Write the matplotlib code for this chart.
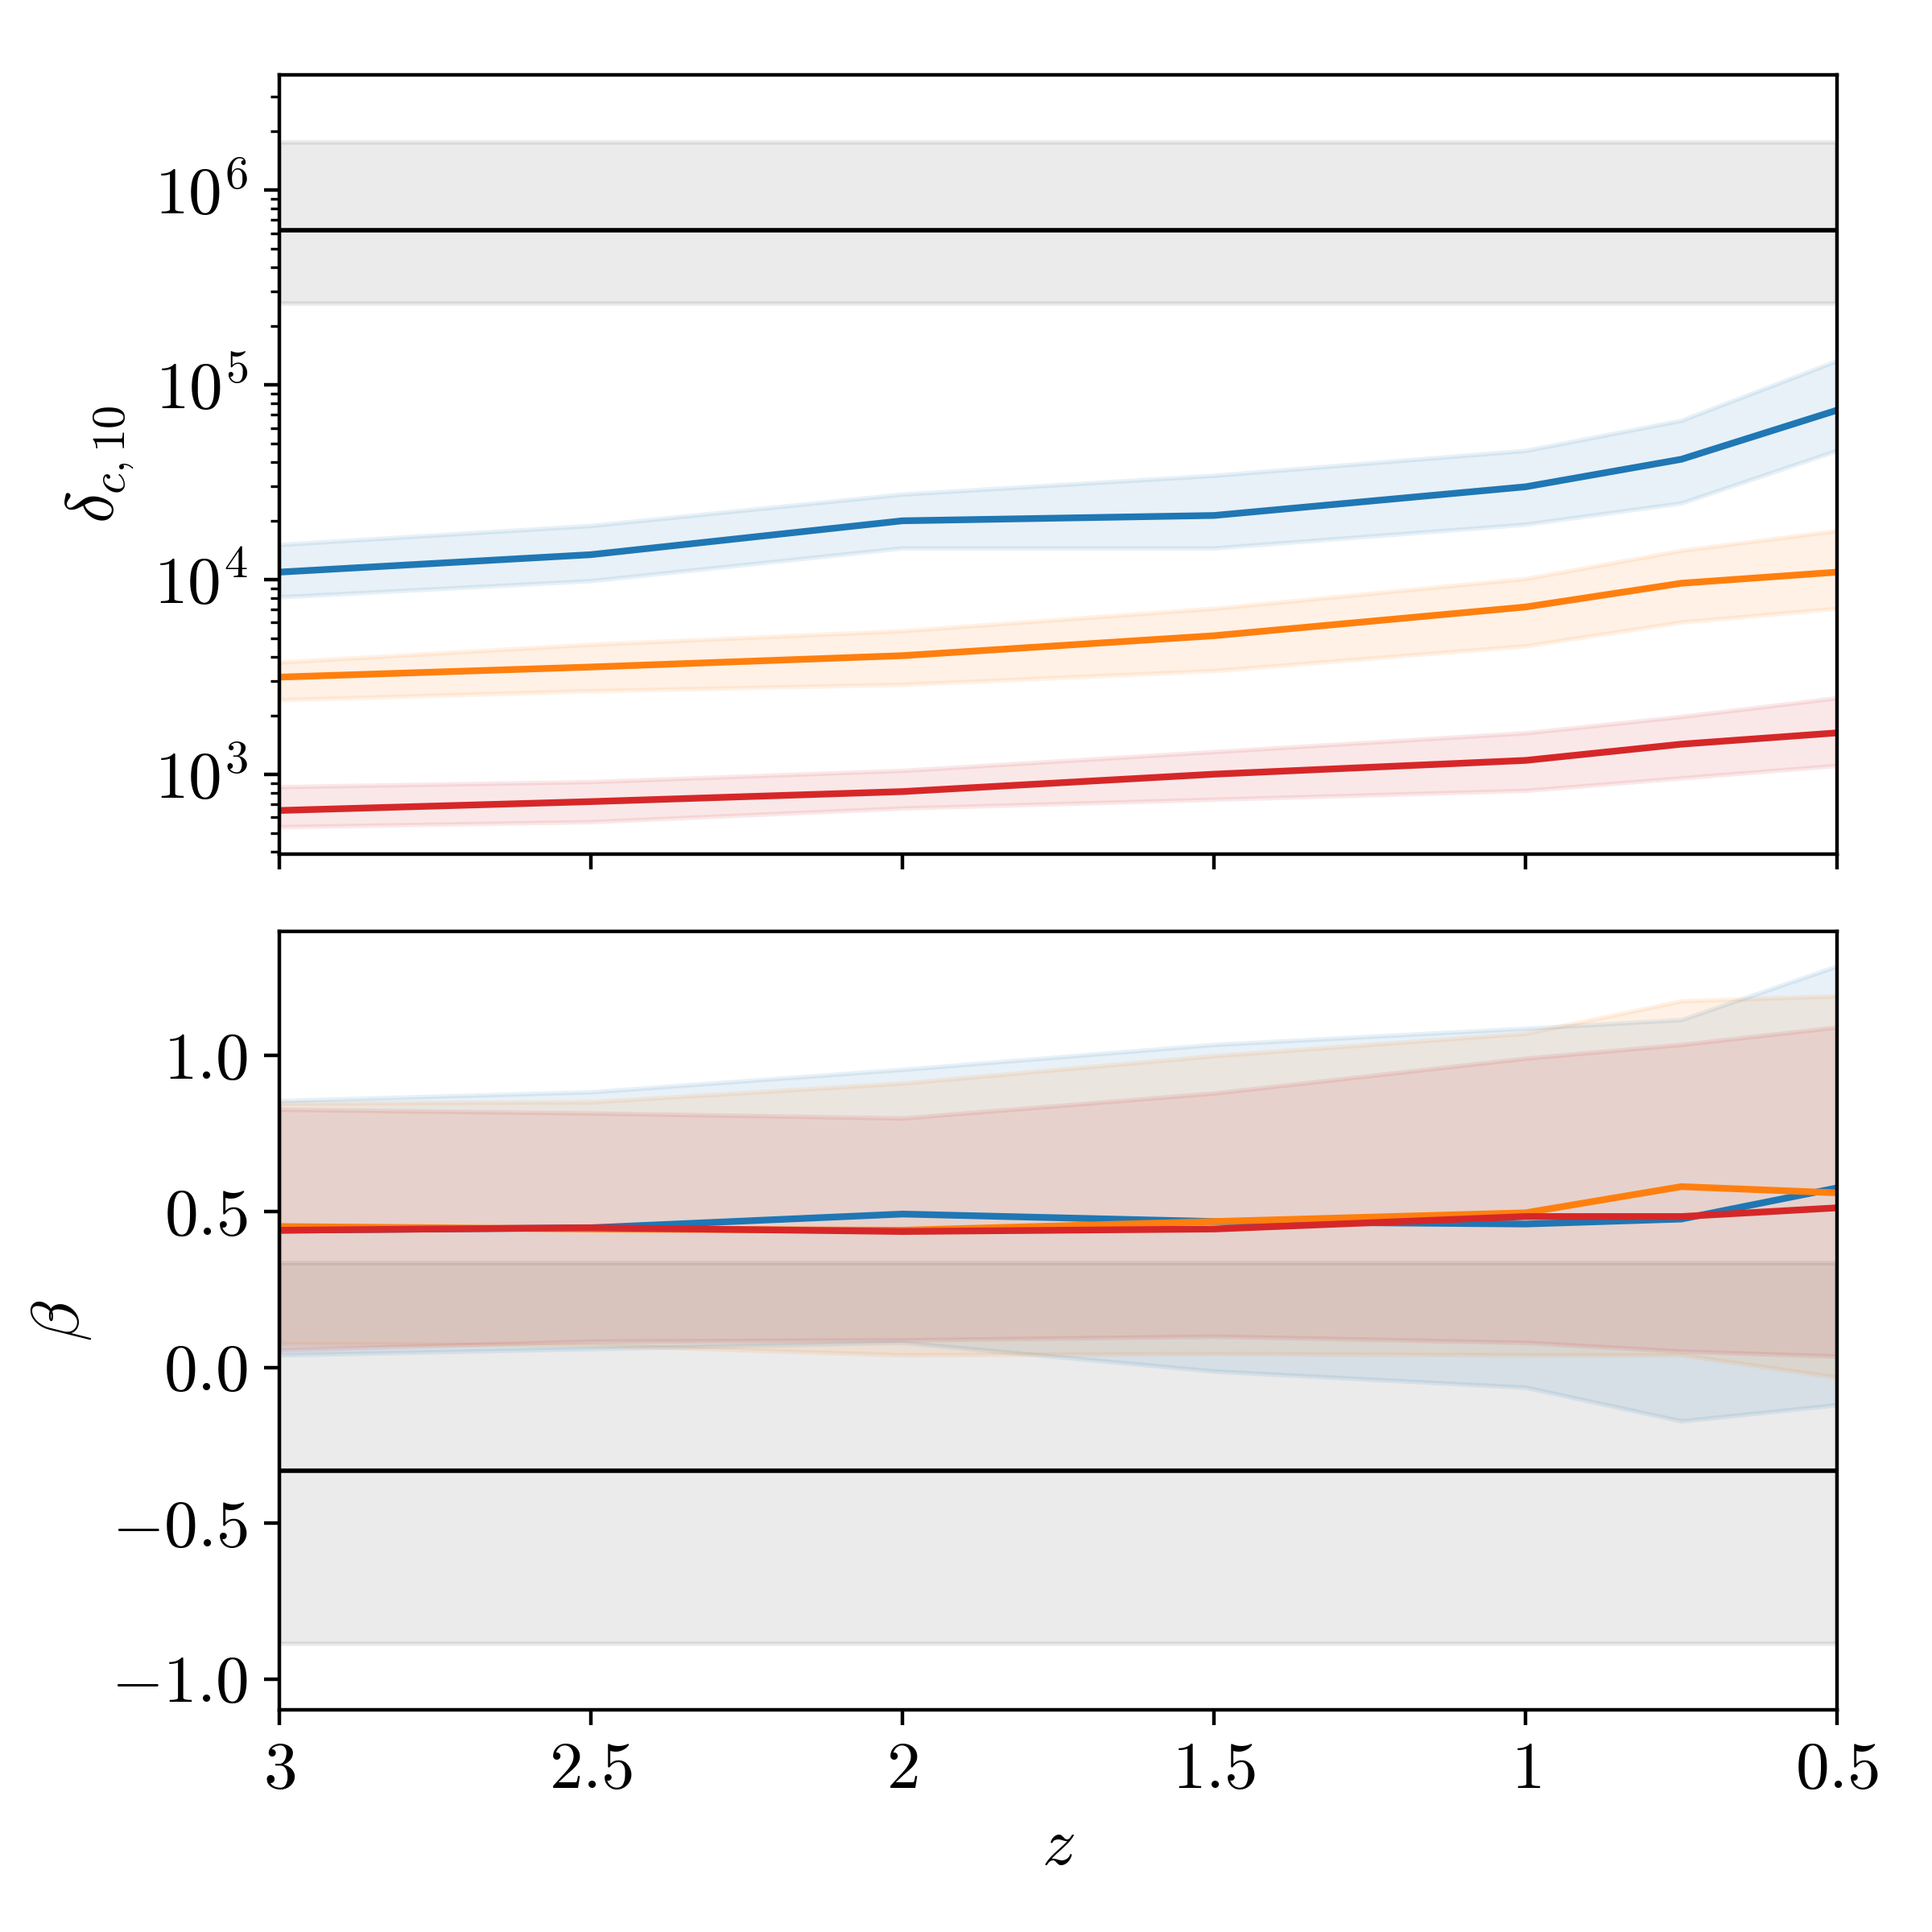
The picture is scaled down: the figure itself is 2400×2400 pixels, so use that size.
import numpy as np
import matplotlib
matplotlib.use("Agg")
import matplotlib.pyplot as plt

plt.rcParams['mathtext.fontset'] = 'cm'
plt.rcParams['font.family'] = 'serif'
plt.rcParams['font.serif'] = ['cmr10', 'DejaVu Serif']
plt.rcParams['axes.formatter.use_mathtext'] = True
plt.rcParams['font.size'] = 15

# redshift grid
z = [3.0, 2.5, 2.0, 1.5, 1.0, 0.75, 0.5]

# top panel: delta_c,10 (median, lower, upper)
dc_blue = [1.09e4, 1.34e4, 2.0e4, 2.13e4, 2.99e4, 4.14e4, 7.4e4]
dc_blue_lo = [8.13e3, 9.85e3, 1.45e4, 1.45e4, 1.92e4, 2.47e4, 4.6e4]
dc_blue_hi = [1.51e4, 1.89e4, 2.74e4, 3.42e4, 4.59e4, 6.56e4, 1.33e5]

dc_orange = [3.15e3, 3.55e3, 4.06e3, 5.14e3, 7.22e3, 9.56e3, 1.09e4]
dc_orange_lo = [2.41e3, 2.68e3, 2.89e3, 3.4e3, 4.56e3, 6.04e3, 7.1e3]
dc_orange_hi = [3.76e3, 4.64e3, 5.45e3, 7.1e3, 1.01e4, 1.41e4, 1.78e4]

dc_red = [651, 723, 814, 1000, 1177, 1426, 1630]
dc_red_lo = [537, 570, 670, 743, 825, 957, 1109]
dc_red_hi = [862, 915, 1045, 1305, 1630, 1977, 2466]

dc_ref = 6.2e5
dc_ref_lo = 2.6e5
dc_ref_hi = 1.75e6

# bottom panel: beta (median, lower, upper)
b_blue = [0.44, 0.448, 0.492, 0.468, 0.46, 0.476, 0.576]
b_blue_lo = [0.04, 0.06, 0.08, -0.012, -0.064, -0.172, -0.12]
b_blue_hi = [0.856, 0.884, 0.956, 1.036, 1.088, 1.116, 1.288]

b_orange = [0.452, 0.444, 0.44, 0.468, 0.496, 0.58, 0.56]
b_orange_lo = [0.076, 0.072, 0.04, 0.044, 0.04, 0.04, -0.032]
b_orange_hi = [0.848, 0.852, 0.912, 1.0, 1.072, 1.176, 1.192]

b_red = [0.44, 0.448, 0.436, 0.444, 0.484, 0.484, 0.512]
b_red_lo = [0.056, 0.084, 0.088, 0.1, 0.08, 0.052, 0.036]
b_red_hi = [0.828, 0.816, 0.8, 0.88, 0.992, 1.036, 1.092]

b_ref = -0.332
b_ref_lo = -0.888
b_ref_hi = 0.336

xticks = [3, 2.5, 2, 1.5, 1, 0.5]
xticklabels = ['$3$', '$2.5$', '$2$', '$1.5$', '$1$', '$0.5$']
ytick_beta = [1.0, 0.5, 0.0, -0.5, -1.0]
ytick_beta_labels = ['$1.0$', '$0.5$', '$0.0$', '$-0.5$', '$-1.0$']

fig = plt.figure(figsize=(6, 6), dpi=400)
L, W = 224 / 1550, (1474 - 224) / 1550
ax1 = fig.add_axes([L, 1 - 685 / 1550, W, 625 / 1550])
ax2 = fig.add_axes([L, 1 - 1372 / 1550, W, 625 / 1550])

xlim = (3, 0.5)

# top panel
ax1.fill_between(xlim, [dc_ref_lo] * 2, [dc_ref_hi] * 2, color='k', alpha=0.08)
ax1.axhline(dc_ref, color='k', lw=1.0)
for med, lo, hi, c in [(dc_blue, dc_blue_lo, dc_blue_hi, 'C0'),
                       (dc_orange, dc_orange_lo, dc_orange_hi, 'C1'),
                       (dc_red, dc_red_lo, dc_red_hi, 'C3')]:
    ax1.fill_between(z, lo, hi, color=c, alpha=0.1)
    ax1.plot(z, med, color=c, lw=1.5)
ax1.set_yscale('log')
ax1.set_ylim(390, 3.9e6)
ax1.set_xlim(*xlim)
ax1.set_yticks([1e3, 1e4, 1e5, 1e6])
ax1.set_yticklabels(['$10^{3}$', '$10^{4}$', '$10^{5}$', '$10^{6}$'])
ax1.set_xticks(xticks)
ax1.tick_params(labelbottom=False)
ax1.set_ylabel(r'$\delta_{c,10}$')

# bottom panel
ax2.fill_between(xlim, [b_ref_lo] * 2, [b_ref_hi] * 2, color='k', alpha=0.08)
ax2.axhline(b_ref, color='k', lw=1.0)
for med, lo, hi, c in [(b_blue, b_blue_lo, b_blue_hi, 'C0'),
                       (b_orange, b_orange_lo, b_orange_hi, 'C1'),
                       (b_red, b_red_lo, b_red_hi, 'C3')]:
    ax2.fill_between(z, lo, hi, color=c, alpha=0.1)
    ax2.plot(z, med, color=c, lw=1.5)
ax2.set_xlim(*xlim)
ax2.set_ylim(-1.1, 1.4)
ax2.set_yticks(ytick_beta)
ax2.set_yticklabels(ytick_beta_labels)
ax2.set_xticks(xticks)
ax2.set_xticklabels(xticklabels)
ax2.set_ylabel(r'$\beta$')
ax2.set_xlabel(r'$z$')

fig.savefig('out.png', dpi=400)
